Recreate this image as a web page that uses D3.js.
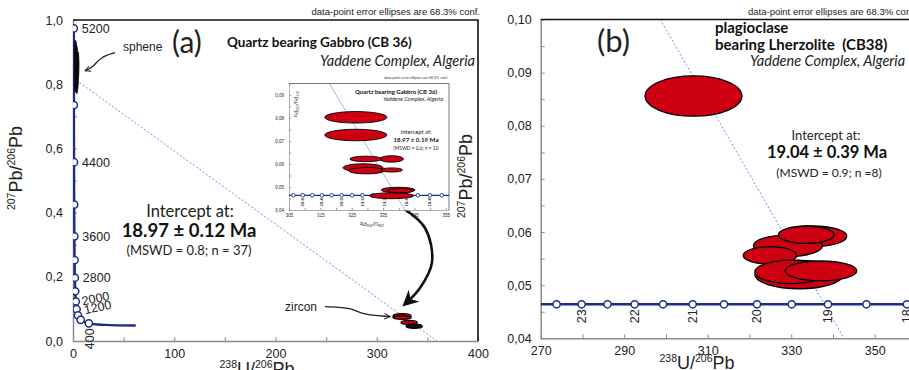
<!DOCTYPE html>
<html>
<head>
<meta charset="utf-8">
<script src="https://cdn.jsdelivr.net/npm/d3@7"></script>
<style>
  body { margin: 0; background: #fff; }
  svg { display: block; }
  text { font-family: "Liberation Sans", Arial, sans-serif; }
  .cal { font-family: Lato, "Open Sans", sans-serif; }
</style>
</head>
<body>
<svg id="chart" width="909" height="370"></svg>
<script>
'use strict';

// ---- panel (a): concordia, Tera-Wasserburg (238U/206Pb vs 207Pb/206Pb)
var concAgesA = [5200, 4800, 4400, 4000, 3600, 3200, 2800, 2400, 2000, 1600, 1200, 800, 400];
var concXA = [0.81, 0.90, 1.02, 1.16, 1.34, 1.56, 1.84, 2.22, 2.75, 3.55, 4.89, 7.57, 15.6];
var concYA = [0.974, 0.735, 0.557, 0.425, 0.326, 0.252, 0.197, 0.155, 0.123, 0.099, 0.080, 0.066, 0.055];
var concTailXA = [31.7, 62];
var concTailYA = [0.0501, 0.0482];
var concLabelsA = [5200, 4400, 3600, 2800, 2000, 1200, 400];

var xTicksA = [0, 100, 200, 300, 400];
var yTicksA = [0, 0.2, 0.4, 0.6, 0.8, 1.0];

// discordia (a): y-intercept / x-intercept
var discA = {y0: 0.82, x0: 359.5};

var sphene = [
  {x: 2.5, y: 0.905, rx: 1.2, ry: 0.032},
  {x: 3.5, y: 0.875, rx: 1.6, ry: 0.045},
  {x: 3.0, y: 0.850, rx: 1.6, ry: 0.050},
  {x: 4.2, y: 0.830, rx: 1.3, ry: 0.045},
  {x: 2.6, y: 0.815, rx: 1.4, ry: 0.040},
  {x: 3.8, y: 0.795, rx: 1.0, ry: 0.025},
  {x: 5.0, y: 0.860, rx: 1.0, ry: 0.040}
];
var zircon = [
  {x: 325, y: 0.078, rx: 9, ry: 0.0070, fill: "#cc0010"},
  {x: 325, y: 0.073, rx: 9, ry: 0.0055, fill: "#cc0010"},
  {x: 332, y: 0.058, rx: 8, ry: 0.0065, fill: "#cc0010"},
  {x: 337, y: 0.046, rx: 8, ry: 0.0065, fill: "#111"}
];

// annotation arrows, in data units of panel (a)
var arrowSphene = [[41.5, 0.898], [26.7, 0.884], [19.8, 0.852], [11.9, 0.842]];
var arrowZircon = [[248.9, 0.107], [276.5, 0.104], [283.5, 0.083], [313.1, 0.076]];
var arrowInset = [[325.9, 0.414], [347.7, 0.352], [354.6, 0.246], [342.7, 0.165], [329.9, 0.121]];

// ---- inset of panel (a)
var insetAges = [21.0, 20.8, 20.6, 20.4, 20.2, 20.0, 19.8, 19.6, 19.4, 19.2, 19.0, 18.8, 18.6, 18.4, 18.2];
var insetConcX = [306.4, 309.4, 312.4, 315.5, 318.6, 321.8, 325.1, 328.4, 331.8, 335.3, 338.8, 342.4, 346.1, 349.9, 353.7];
var insetConcY = 0.0464;
var insetLabels = ["20.8", "20.4", "20.0", "19.6", "19.2", "18.8", "18.4"];
var insetXTicks = [305, 315, 325, 335, 345, 355];
var insetYTicks = [0.04, 0.05, 0.06, 0.07, 0.08, 0.09];
var insetEllipses = [
  {x: 326.3, y: 0.0803, rx: 9.9, ry: 0.0025},
  {x: 326.3, y: 0.0726, rx: 9.9, ry: 0.0025},
  {x: 337.7, y: 0.0622, rx: 3.8, ry: 0.0014},
  {x: 329.5, y: 0.0622, rx: 5.1, ry: 0.0012},
  {x: 328.6, y: 0.0584, rx: 6.4, ry: 0.0017},
  {x: 329.7, y: 0.0571, rx: 5.7, ry: 0.0014},
  {x: 337.7, y: 0.0574, rx: 3.5, ry: 0.0009},
  {x: 337.7, y: 0.0462, rx: 7.0, ry: 0.0013},
  {x: 339.8, y: 0.0487, rx: 5.4, ry: 0.0012},
  {x: 340.5, y: 0.0484, rx: 4.1, ry: 0.0009}
];

// ---- panel (b)
var concAgesB = [23.5, 23, 22.5, 22, 21.5, 21, 20.5, 20, 19.5, 19, 18.5, 18];
var concXB = [273.8, 279.8, 286.0, 292.5, 299.3, 306.4, 313.9, 321.8, 330.1, 338.8, 348.0, 357.7];
var concYB = 0.0464;
var concLabelsB = [23, 22, 21, 20, 19, 18];
var xTicksB = [270, 290, 310, 330, 350];
var yTicksB = [0.04, 0.05, 0.06, 0.07, 0.08, 0.09, 0.10];
var discB = {y0: 0.507, x0: 372};
var ellipsesB = [
  {x: 306.6, y: 0.0856, rx: 11.6, ry: 0.0038},
  {x: 335.1, y: 0.0592, rx: 8.2, ry: 0.00194},
  {x: 329.2, y: 0.0574, rx: 8.26, ry: 0.00203},
  {x: 333.6, y: 0.0595, rx: 6.66, ry: 0.00164},
  {x: 324.9, y: 0.0556, rx: 6.4, ry: 0.00164},
  {x: 331.9, y: 0.0520, rx: 10.6, ry: 0.00267},
  {x: 329.9, y: 0.0525, rx: 8.6, ry: 0.0022},
  {x: 337.1, y: 0.0527, rx: 8.6, ry: 0.00185}
];

var NAVY = "#1d2b8a", RED = "#cc0010", AXIS = "#8c8c8c";
var commaLocale = d3.formatLocale({decimal: ",", thousands: ".", grouping: [3], currency: ["", ""]});

var svg = d3.select("#chart");
svg.append("rect").attr("width", 909).attr("height", 370).attr("fill", "#fff");

var defs = svg.append("defs");
defs.append("marker").attr("id", "openHead")
    .attr("viewBox", "0 0 10 10").attr("refX", 9).attr("refY", 5)
    .attr("markerWidth", 7).attr("markerHeight", 7).attr("markerUnits", "userSpaceOnUse")
    .attr("orient", "auto")
  .append("path").attr("d", "M1,1 L9,5 L1,9").attr("fill", "none").attr("stroke", "#222").attr("stroke-width", 1.4);
defs.append("marker").attr("id", "fillHead")
    .attr("viewBox", "0 0 10 10").attr("refX", 6).attr("refY", 5)
    .attr("markerWidth", 16).attr("markerHeight", 16).attr("markerUnits", "userSpaceOnUse")
    .attr("orient", "auto")
  .append("path").attr("d", "M0,0 L10,5 L0,10 L3,5 Z").attr("fill", "#111");

function isoLabel(sel, a, b, big, small) {
    sel.append("tspan").attr("font-size", small).attr("dy", -big * 0.4).text(a);
    sel.append("tspan").attr("font-size", big).attr("dy", big * 0.4).text("Pb/");
    sel.append("tspan").attr("font-size", small).attr("dy", -big * 0.4).text("206");
    sel.append("tspan").attr("font-size", big).attr("dy", big * 0.4).text("Pb");
}
function isoLabelU(sel, big, small) {
    sel.append("tspan").attr("font-size", small).attr("dy", -big * 0.4).text("238");
    sel.append("tspan").attr("font-size", big).attr("dy", big * 0.4).text("U/");
    sel.append("tspan").attr("font-size", small).attr("dy", -big * 0.4).text("206");
    sel.append("tspan").attr("font-size", big).attr("dy", big * 0.4).text("Pb");
}
function drawEllipses(g, data, x, y, fill, sw) {
    g.selectAll(null).data(data).enter().append("ellipse")
        .attr("cx", function(d) { return x(d.x); })
        .attr("cy", function(d) { return y(d.y); })
        .attr("rx", function(d) { return x(d.x + d.rx) - x(d.x); })
        .attr("ry", function(d) { return y(d.y - d.ry) - y(d.y); })
        .attr("fill", function(d) { return d.fill || fill; })
        .attr("stroke", "#000").attr("stroke-width", sw);
}
function styleAxis(g, color, fs) {
    g.select(".domain").attr("stroke", color).attr("stroke-width", 1.5);
    g.selectAll(".tick line").attr("stroke", color);
    g.selectAll(".tick text").attr("fill", "#222").attr("font-size", fs)
        .attr("font-family", "'Liberation Sans', Arial, sans-serif");
}

// ================= panel (a) =================
var xA = d3.scaleLinear().domain([0, 400]).range([73, 478]);
var yA = d3.scaleLinear().domain([0, 1]).range([341, 20]);

defs.append("clipPath").attr("id", "clipA").append("rect")
    .attr("x", 73).attr("y", 20).attr("width", 405).attr("height", 321);

var gA = svg.append("g");
gA.append("g").attr("transform", "translate(0,341)")
    .call(d3.axisBottom(xA).tickValues(d3.range(0, 401, 50)).tickSizeInner(-4).tickSizeOuter(0).tickPadding(8)
        .tickFormat(function(d) { return xTicksA.indexOf(d) >= 0 ? d : ""; }))
    .call(styleAxis, AXIS, 12.5);
gA.append("g").attr("transform", "translate(73,0)")
    .call(d3.axisLeft(yA).tickValues(d3.range(0, 1.01, 0.1)).tickSizeInner(-4).tickSizeOuter(0).tickPadding(10)
        .tickFormat(function(d) {
            var hit = yTicksA.some(function(t) { return Math.abs(t - d) < 1e-6; });
            return hit ? commaLocale.format(".1f")(d) : "";
        }))
    .call(styleAxis, AXIS, 12.5);
gA.append("path").attr("d", "M73," + yA(1) + "H" + xA(400) + "V" + yA(0))
    .attr("fill", "none").attr("stroke", "#111").attr("stroke-width", 1.6);

var plotA = gA.append("g").attr("clip-path", "url(#clipA)");
plotA.append("line")
    .attr("x1", xA(0)).attr("y1", yA(discA.y0)).attr("x2", xA(discA.x0)).attr("y2", yA(0))
    .attr("stroke", "#6f78e0").attr("stroke-width", 0.9).attr("stroke-dasharray", "2,2");

var curveA = concXA.map(function(v, i) { return [v, concYA[i]]; })
    .concat(concTailXA.map(function(v, i) { return [v, concTailYA[i]]; }));
plotA.append("path").datum(curveA)
    .attr("d", d3.line().x(function(d) { return xA(d[0]); }).y(function(d) { return yA(d[1]); }).curve(d3.curveCatmullRom))
    .attr("fill", "none").attr("stroke", NAVY).attr("stroke-width", 2.4);
plotA.selectAll(null).data(concAgesA).enter().append("circle")
    .attr("cx", function(d, i) { return xA(concXA[i]); })
    .attr("cy", function(d, i) { return yA(concYA[i]); })
    .attr("r", 3.6).attr("fill", "#fff").attr("stroke", NAVY).attr("stroke-width", 1.5);

// age labels on the concordia
concLabelsA.forEach(function(age) {
    var i = concAgesA.indexOf(age);
    var px = xA(concXA[i]), py = yA(concYA[i]);
    var t = gA.append("text").attr("font-size", 12.5).attr("fill", "#222").text(age);
    if (age === 400) {
        t.attr("transform", "translate(" + (px + 1) + "," + (py + 5) + ") rotate(-90)")
            .attr("text-anchor", "end").attr("dy", "0.35em");
    } else if (age === 2000 || age === 1200) {
        t.attr("transform", "translate(" + (px + 7) + "," + (py + (age === 2000 ? 4 : -1)) + ") rotate(-12)");
    } else {
        t.attr("x", px + 8).attr("y", py + 4.5);
    }
});

drawEllipses(plotA, sphene, xA, yA, "#111", 0.6);
drawEllipses(plotA, zircon, xA, yA, RED, 1.3);

var arrowLine = d3.line().x(function(d) { return xA(d[0]); }).y(function(d) { return yA(d[1]); }).curve(d3.curveBasis);
gA.append("path").datum(arrowSphene).attr("d", arrowLine)
    .attr("fill", "none").attr("stroke", "#222").attr("stroke-width", 1.3).attr("marker-end", "url(#openHead)");
gA.append("path").datum(arrowZircon).attr("d", arrowLine)
    .attr("fill", "none").attr("stroke", "#222").attr("stroke-width", 1.3).attr("marker-end", "url(#openHead)");
gA.append("path").datum(arrowInset).attr("d", arrowLine.curve(d3.curveCatmullRom))
    .attr("fill", "none").attr("stroke", "#111").attr("stroke-width", 2.6).attr("marker-end", "url(#fillHead)");

gA.append("text").attr("x", 123).attr("y", 51).attr("font-size", 12).attr("fill", "#222").text("sphene");
gA.append("text").attr("x", 285).attr("y", 311).attr("font-size", 12).attr("fill", "#222").text("zircon");
gA.append("text").attr("class", "cal").attr("x", 172).attr("y", 53).attr("font-size", 30).attr("fill", "#222").text("(a)");
gA.append("text").attr("class", "cal").attr("x", 227).attr("y", 47).attr("font-size", 13.5)
    .attr("font-weight", "bold").attr("fill", "#111").text("Quartz bearing Gabbro (CB 36)");
gA.append("text").attr("class", "cal").attr("x", 475).attr("y", 66).attr("font-size", 14.5)
    .attr("font-style", "italic").attr("text-anchor", "end").attr("fill", "#222").text("Yaddene Complex, Algeria");
gA.append("text").attr("x", 480).attr("y", 15).attr("font-size", 9.5).attr("text-anchor", "end")
    .attr("fill", "#222").text("data-point error ellipses are 68.3% conf.");
gA.append("text").attr("class", "cal").attr("x", 190).attr("y", 217).attr("font-size", 16.5)
    .attr("text-anchor", "middle").attr("fill", "#222").text("Intercept at:");
gA.append("text").attr("class", "cal").attr("x", 189).attr("y", 237).attr("font-size", 18.5)
    .attr("font-weight", "bold").attr("text-anchor", "middle").attr("fill", "#111").text("18.97 \u00b1 0.12 Ma");
gA.append("text").attr("class", "cal").attr("x", 189).attr("y", 255).attr("font-size", 13)
    .attr("text-anchor", "middle").attr("fill", "#222").text("(MSWD = 0.8; n = 37)");

gA.append("text").attr("transform", "translate(22,168) rotate(-90)").attr("text-anchor", "middle")
    .attr("fill", "#222").call(isoLabel, "207", "206", 18, 10.5);
gA.append("text").attr("x", 257).attr("y", 375).attr("text-anchor", "middle")
    .attr("fill", "#222").call(isoLabelU, 18, 10.5);

// ---- inset
var xI = d3.scaleLinear().domain([305, 356]).range([289, 449]);
var yI = d3.scaleLinear().domain([0.04, 0.095]).range([210, 83.5]);
defs.append("clipPath").attr("id", "clipI").append("rect")
    .attr("x", 289).attr("y", 83.5).attr("width", 160).attr("height", 126.5);
var gI = svg.append("g");
gI.append("rect").attr("x", 289).attr("y", 83.5).attr("width", 160).attr("height", 126.5).attr("fill", "#fff");
gI.append("g").attr("transform", "translate(0,210)")
    .call(d3.axisBottom(xI).tickValues(d3.range(305, 356, 5)).tickSizeInner(-2).tickSizeOuter(0).tickPadding(4)
        .tickFormat(function(d) { return insetXTicks.indexOf(d) >= 0 ? d : ""; }))
    .call(styleAxis, "#999", 4.5);
gI.append("g").attr("transform", "translate(289,0)")
    .call(d3.axisLeft(yI).tickValues(d3.range(0.04, 0.0951, 0.005)).tickSizeInner(-2).tickSizeOuter(0).tickPadding(5)
        .tickFormat(function(d) {
            var hit = insetYTicks.some(function(t) { return Math.abs(t - d) < 1e-6; });
            return hit ? commaLocale.format(".2f")(d) : "";
        }))
    .call(styleAxis, "#999", 4.5);
gI.selectAll(".domain").attr("stroke-width", 0.8);
gI.append("path").attr("d", "M289," + yI(0.095) + "H" + xI(356) + "V" + yI(0.04))
    .attr("fill", "none").attr("stroke", "#555").attr("stroke-width", 0.8);

var plotI = gI.append("g").attr("clip-path", "url(#clipI)");
plotI.append("line")
    .attr("x1", xI(0)).attr("y1", yI(discA.y0)).attr("x2", xI(discA.x0)).attr("y2", yI(0))
    .attr("stroke", "#7a82e0").attr("stroke-width", 0.6);
plotI.append("line").attr("x1", xI(305)).attr("x2", xI(356)).attr("y1", yI(insetConcY)).attr("y2", yI(insetConcY))
    .attr("stroke", NAVY).attr("stroke-width", 1.2);
plotI.selectAll(null).data(insetConcX).enter().append("circle")
    .attr("cx", function(d) { return xI(d); }).attr("cy", yI(insetConcY))
    .attr("r", 1.8).attr("fill", "#fff").attr("stroke", NAVY).attr("stroke-width", 0.9);
insetLabels.forEach(function(lab) {
    var i = insetAges.indexOf(+lab);
    plotI.append("text").attr("transform", "translate(" + xI(insetConcX[i]) + "," + (yI(insetConcY) + 3) + ") rotate(-90)")
        .attr("text-anchor", "end").attr("dy", "0.35em").attr("font-size", 4.2).attr("font-weight", "bold")
        .attr("fill", "#333").text(lab);
});
drawEllipses(plotI, insetEllipses, xI, yI, RED, 0.9);

gI.append("text").attr("x", 448).attr("y", 79).attr("font-size", 3.6).attr("text-anchor", "end")
    .attr("fill", "#333").text("data-point error ellipses are 68.3% conf.");
gI.append("text").attr("class", "cal").attr("x", 396).attr("y", 94).attr("font-size", 6).attr("font-weight", "bold")
    .attr("text-anchor", "middle").attr("fill", "#111").text("Quartz bearing Gabbro (CB 36)");
gI.append("text").attr("class", "cal").attr("x", 443).attr("y", 101).attr("font-size", 5.6).attr("font-style", "italic")
    .attr("text-anchor", "end").attr("fill", "#222").text("Yaddene Complex, Algeria");
gI.append("text").attr("class", "cal").attr("x", 416).attr("y", 134).attr("font-size", 5.8)
    .attr("text-anchor", "middle").attr("fill", "#222").text("Intercept at:");
gI.append("text").attr("class", "cal").attr("x", 416).attr("y", 142).attr("font-size", 6.2).attr("font-weight", "bold")
    .attr("text-anchor", "middle").attr("fill", "#111").text("18.97 \u00b1 0.19 Ma");
gI.append("text").attr("class", "cal").attr("x", 416).attr("y", 150).attr("font-size", 4.8)
    .attr("text-anchor", "middle").attr("fill", "#222").text("(MSWD = 0.6; n = 10");
gI.append("text").attr("transform", "translate(294,104) rotate(90)").attr("text-anchor", "middle")
    .attr("fill", "#333").call(isoLabel, "207", "206", 5.5, 3.5);
gI.append("text").attr("transform", "translate(372,222) rotate(180)").attr("text-anchor", "middle")
    .attr("fill", "#333").call(isoLabelU, 5.5, 3.5);

// ================= panel (b) =================
var xB = d3.scaleLinear().domain([270, 358.2]).range([540.7, 909]);
var yB = d3.scaleLinear().domain([0.04, 0.10]).range([338.3, 19.5]);
defs.append("clipPath").attr("id", "clipB").append("rect")
    .attr("x", 540.7).attr("y", 19.5).attr("width", 370).attr("height", 318.8);

var gB = svg.append("g");
gB.append("g").attr("transform", "translate(0,338.3)")
    .call(d3.axisBottom(xB).tickValues(d3.range(270, 359, 10)).tickSizeInner(-4).tickSizeOuter(0).tickPadding(8)
        .tickFormat(function(d) { return xTicksB.indexOf(d) >= 0 ? d : ""; }))
    .call(styleAxis, AXIS, 12.5);
gB.append("g").attr("transform", "translate(540.7,0)")
    .call(d3.axisLeft(yB).tickValues(d3.range(0.04, 0.1001, 0.005)).tickSizeInner(-4).tickSizeOuter(0).tickPadding(9)
        .tickFormat(function(d) {
            var hit = yTicksB.some(function(t) { return Math.abs(t - d) < 1e-6; });
            return hit ? commaLocale.format(".2f")(d) : "";
        }))
    .call(styleAxis, AXIS, 12.5);
gB.append("line").attr("x1", 540.7).attr("x2", 909).attr("y1", yB(0.10)).attr("y2", yB(0.10))
    .attr("stroke", "#111").attr("stroke-width", 1.6);

var plotB = gB.append("g").attr("clip-path", "url(#clipB)");
plotB.append("line")
    .attr("x1", xB(0)).attr("y1", yB(discB.y0)).attr("x2", xB(discB.x0)).attr("y2", yB(0))
    .attr("stroke", "#6f78e0").attr("stroke-width", 0.9).attr("stroke-dasharray", "2,2");
plotB.append("line").attr("x1", xB(270)).attr("x2", xB(360)).attr("y1", yB(concYB)).attr("y2", yB(concYB))
    .attr("stroke", NAVY).attr("stroke-width", 2.4);
plotB.selectAll(null).data(concXB).enter().append("circle")
    .attr("cx", function(d) { return xB(d); }).attr("cy", yB(concYB))
    .attr("r", 3.6).attr("fill", "#fff").attr("stroke", NAVY).attr("stroke-width", 1.5);
concLabelsB.forEach(function(age) {
    var i = concAgesB.indexOf(age);
    plotB.append("text").attr("transform", "translate(" + xB(concXB[i]) + "," + (yB(concYB) + 5) + ") rotate(-90)")
        .attr("text-anchor", "end").attr("dy", "0.35em").attr("font-size", 12.5).attr("fill", "#222").text(age);
});
drawEllipses(plotB, ellipsesB, xB, yB, RED, 1.3);

gB.append("text").attr("class", "cal").attr("x", 597).attr("y", 52).attr("font-size", 31).attr("fill", "#222").text("(b)");
gB.append("text").attr("x", 748).attr("y", 15).attr("font-size", 9.5).attr("fill", "#222")
    .text("data-point error ellipses are 68.3% conf.");
gB.append("text").attr("class", "cal").attr("x", 715).attr("y", 33).attr("font-size", 15)
    .attr("font-weight", "bold").attr("fill", "#111").text("plagioclase");
gB.append("text").attr("class", "cal").attr("x", 715).attr("y", 50).attr("font-size", 15)
    .attr("font-weight", "bold").attr("fill", "#111").attr("xml:space", "preserve").text("bearing Lherzolite  (CB38)");
gB.append("text").attr("class", "cal").attr("x", 750).attr("y", 66).attr("font-size", 14.5)
    .attr("font-style", "italic").attr("fill", "#222").text("Yaddene Complex, Algeria");
gB.append("text").attr("class", "cal").attr("x", 826).attr("y", 140).attr("font-size", 13)
    .attr("text-anchor", "middle").attr("fill", "#222").text("Intercept at:");
gB.append("text").attr("class", "cal").attr("x", 827).attr("y", 158).attr("font-size", 16.5)
    .attr("font-weight", "bold").attr("text-anchor", "middle").attr("fill", "#111").text("19.04 \u00b1 0.39 Ma");
gB.append("text").attr("class", "cal").attr("x", 829).attr("y", 177).attr("font-size", 12)
    .attr("text-anchor", "middle").attr("fill", "#222").text("(MSWD = 0.9; n =8)");

gB.append("text").attr("transform", "translate(472,176) rotate(-90)").attr("text-anchor", "middle")
    .attr("fill", "#222").call(isoLabel, "207", "206", 18, 10.5);
gB.append("text").attr("x", 697).attr("y", 369).attr("text-anchor", "middle")
    .attr("fill", "#222").call(isoLabelU, 18, 10.5);
</script>
</body>
</html>
